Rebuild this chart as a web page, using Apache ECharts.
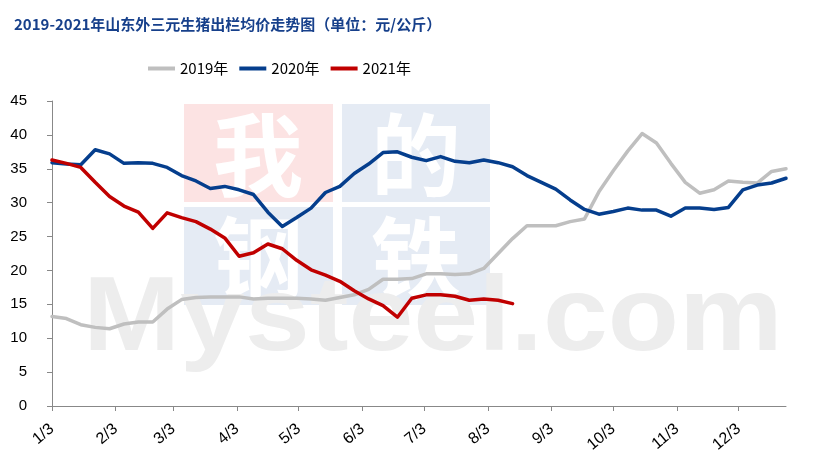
<!DOCTYPE html>
<html>
<head>
<meta charset="utf-8">
<script src="https://cdn.jsdelivr.net/npm/echarts@6/dist/echarts.min.js"></script>
<style>html,body{margin:0;padding:0;background:#fff}#c{width:815px;height:460px}</style>
</head>
<body>
<div id="c"></div>
<script>
// Weekly observations: day offset from Jan 3 (week index * 7)
const weekCount = 52;
const seriesNames = ['2019年', '2020年', '2021年'];
const values2019 = [13.2,12.9,12.0,11.6,11.4,12.1,12.4,12.4,14.3,15.7,16.0,16.1,16.1,16.1,15.8,15.9,15.9,15.9,15.8,15.6,16.0,16.4,17.2,18.7,18.7,18.8,19.5,19.5,19.4,19.5,20.3,22.5,24.7,26.6,26.6,26.6,27.2,27.6,31.6,34.7,37.6,40.2,38.8,35.8,33.0,31.4,31.9,33.2,33.0,32.9,34.6,35.0];
const values2020 = [35.9,35.7,35.6,37.8,37.2,35.8,35.9,35.8,35.2,34.0,33.2,32.1,32.4,31.9,31.2,28.6,26.5,27.8,29.2,31.5,32.4,34.3,35.7,37.4,37.5,36.7,36.2,36.8,36.1,35.9,36.3,35.9,35.3,34.0,33.0,32.0,30.4,29.0,28.3,28.7,29.2,28.9,28.9,28.0,29.2,29.2,29.0,29.3,31.9,32.6,32.9,33.6];
const values2021 = [36.3,35.8,35.2,33.0,30.9,29.5,28.6,26.2,28.5,27.8,27.2,26.1,24.8,22.1,22.6,23.9,23.2,21.5,20.1,19.3,18.4,17.0,15.8,14.8,13.1,15.9,16.4,16.4,16.2,15.6,15.8,15.6,15.1];
// x tick positions (days from Jan 3) and their labels
const tickDays = [0,31,59,90,120,151,181,212,243,273,304,334];
const tickLabels = ['1/3','2/3','3/3','4/3','5/3','6/3','7/3','8/3','9/3','10/3','11/3','12/3'];
const colors = ['#BFBFBF', '#053E8D', '#C00000'];

const toPairs = arr => arr.map((v, i) => [i * 7, v]);

const chart = echarts.init(document.getElementById('c'), null, {renderer: 'canvas'});
const wmFont = '"Noto Sans CJK SC", sans-serif';
const cjkText = '"Liberation Sans Narrow", "Noto Sans CJK SC", sans-serif';
chart.setOption({
  backgroundColor: '#fff',
  animation: false,
  title: {
    text: '2019-2021年山东外三元生猪出栏均价走势图（单位：元/公斤）',
    left: 9, top: 12,
    textStyle: {fontSize: 15, fontWeight: 'bold', color: '#17408B', fontFamily: '"Noto Sans CJK SC", sans-serif'}
  },
  legend: {
    top: 56, left: 143,
    itemWidth: 27, itemHeight: 4, itemGap: 11,
    icon: 'rect',
    textStyle: {fontSize: 15, color: '#000', fontFamily: cjkText},
    data: seriesNames
  },
  graphic: [
    {type: 'rect', z: -10, shape: {x: 184, y: 104, width: 149, height: 98}, style: {fill: '#FCE3E3'}, silent: true},
    {type: 'rect', z: -10, shape: {x: 342, y: 104, width: 148, height: 98}, style: {fill: '#E5EBF4'}, silent: true},
    {type: 'rect', z: -10, shape: {x: 184, y: 207, width: 149, height: 98}, style: {fill: '#E5EBF4'}, silent: true},
    {type: 'rect', z: -10, shape: {x: 342, y: 207, width: 148, height: 98}, style: {fill: '#E5EBF4'}, silent: true},
    {type: 'text', z: -9, silent: true, style: {x: 258, y: 155, text: '我', fill: '#fff', font: 'bold 90px ' + wmFont, textAlign: 'center', textVerticalAlign: 'middle'}},
    {type: 'text', z: -9, silent: true, style: {x: 416, y: 155, text: '的', fill: '#fff', font: 'bold 90px ' + wmFont, textAlign: 'center', textVerticalAlign: 'middle'}},
    {type: 'text', z: -9, silent: true, style: {x: 258, y: 258, text: '钢', fill: '#fff', font: 'bold 90px ' + wmFont, textAlign: 'center', textVerticalAlign: 'middle'}},
    {type: 'text', z: -9, silent: true, style: {x: 416, y: 258, text: '铁', fill: '#fff', font: 'bold 90px ' + wmFont, textAlign: 'center', textVerticalAlign: 'middle'}},
    {type: 'text', z: -8, silent: true, x: 83, y: 374, scaleX: 1.11, scaleY: 1,
     style: {x: 0, y: 0, text: 'Mysteel.com', fill: '#EDEDED', font: 'bold 105px "Liberation Sans", Arial, sans-serif', textAlign: 'left', textVerticalAlign: 'bottom'}}
  ],
  grid: {left: 52, right: 29, top: 101, bottom: 54, containLabel: false},
  xAxis: {
    type: 'value', min: 0, max: (weekCount - 1) * 7,
    splitLine: {show: false},
    axisLine: {show: true, lineStyle: {color: '#888', width: 1}},
    axisTick: {show: true, length: 5, lineStyle: {color: '#888'}, customValues: tickDays},
    axisLabel: {
      customValues: tickDays,
      rotate: 40, fontSize: 16, color: '#000', margin: 21,
      fontFamily: '"Liberation Sans", Arial, sans-serif',
      formatter: v => tickLabels[tickDays.indexOf(v)] || ''
    }
  },
  yAxis: {
    type: 'value', min: 0, max: 45, interval: 5,
    splitLine: {show: false},
    axisLine: {show: true, lineStyle: {color: '#888', width: 1}},
    axisTick: {show: true, length: 5, lineStyle: {color: '#888'}},
    axisLabel: {fontSize: 15, color: '#000', margin: 25, fontFamily: '"Liberation Sans", Arial, sans-serif'}
  },
  series: [values2019, values2020, values2021].map((arr, k) => ({
    name: seriesNames[k], type: 'line', data: toPairs(arr),
    showSymbol: false, symbol: 'none', z: 3 + k,
    lineStyle: {color: colors[k], width: 3.5, join: 'round', cap: 'round'},
    itemStyle: {color: colors[k]}
  }))
});
</script>
</body>
</html>
